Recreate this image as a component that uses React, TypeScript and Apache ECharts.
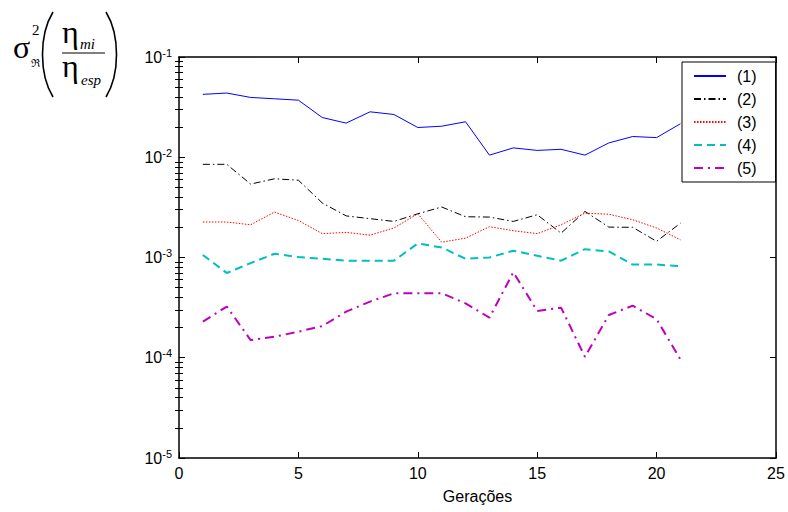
import React, { useEffect, useRef } from "react";
import * as echarts from "echarts";

const generations = [1, 2, 3, 4, 5, 6, 7, 8, 9, 10, 11, 12, 13, 14, 15, 16, 17, 18, 19, 20, 21];
const seriesNames = ["(1)", "(2)", "(3)", "(4)", "(5)"];
const s1 = [0.0424, 0.0437, 0.0395, 0.0383, 0.0371, 0.0249, 0.0219, 0.0284, 0.0267, 0.0198, 0.0204, 0.0226, 0.0105, 0.0124, 0.0117, 0.012, 0.0105, 0.0139, 0.0161, 0.0157, 0.0216];
const s2 = [0.0085, 0.0085, 0.0054, 0.0061, 0.0059, 0.0035, 0.0026, 0.00244, 0.00229, 0.00273, 0.00319, 0.00255, 0.00253, 0.00229, 0.00267, 0.00175, 0.00288, 0.00201, 0.002, 0.00145, 0.0022];
const s3 = [0.00226, 0.00226, 0.00212, 0.00284, 0.00234, 0.00173, 0.00178, 0.00167, 0.00197, 0.00273, 0.00142, 0.00156, 0.00203, 0.00185, 0.00173, 0.00212, 0.00277, 0.0027, 0.00238, 0.00197, 0.0015];
const s4 = [0.00106, 0.0007, 0.00088, 0.00109, 0.00101, 0.00097, 0.00093, 0.00093, 0.00093, 0.00138, 0.00126, 0.00097, 0.001, 0.00117, 0.00104, 0.00093, 0.00121, 0.00115, 0.00085, 0.00085, 0.00082];
const s5 = [0.000229, 0.000324, 0.00015, 0.000162, 0.000182, 0.000207, 0.000288, 0.000363, 0.00044, 0.00044, 0.00044, 0.000349, 0.000251, 0.000713, 0.000293, 0.000316, 0.000102, 0.000267, 0.000331, 0.000242, 0.0000962];
const xTicks = [0, 5, 10, 15, 20, 25];
const yDecades = [1e-5, 1e-4, 1e-3, 1e-2];
const yMinorMantissas = [2, 3, 4, 5, 6, 7, 8, 9];

const colors = ["#0000ff", "#000000", "#ff0000", "#00bfbf", "#bf00bf"];
const widths = [1, 1, 1, 2, 2];
const dashes: any[] = ["solid", [7, 3, 1.5, 3], [1.5, 1.5], [8, 5], [9, 5, 2, 5]];

const SANS = "'Liberation Sans', Arial, sans-serif";
const SERIF = "'Liberation Serif', 'DejaVu Serif', serif";

// place text by baseline (SVG text is vertically centred on y)
const txt = (s: string, x: number, baseline: number, size: number, italic = false) => ({
  type: "text",
  x,
  y: baseline - 0.3375 * size,
  style: { text: s, font: `${italic ? "italic " : ""}${size}px ${SERIF}`, fill: "#000", verticalAlign: "middle", align: "left" },
});

export default function App() {
  const ref = useRef<HTMLDivElement>(null);
  useEffect(() => {
    if (!ref.current) return;
    const chart = echarts.init(ref.current, undefined, { renderer: "svg" });
    const all = [s1, s2, s3, s4, s5];
    const minorTicks: number[] = [];
    yDecades.forEach((d) => yMinorMantissas.forEach((m) => minorTicks.push(+(m * d).toPrecision(3))));
    const series = all.map((vals, i) => ({
      name: seriesNames[i],
      type: "line",
      xAxisIndex: 0,
      yAxisIndex: 0,
      symbol: "none",
      data: generations.map((g, j) => [g, vals[j]]),
      lineStyle: { color: colors[i], width: widths[i], type: dashes[i] },
      itemStyle: { color: colors[i] },
      z: 3 + i,
    }));
    const axisLine = { show: true, onZero: false, lineStyle: { color: "#000", width: 1.5 } };
    const logBase = { type: "log", logBase: 10, min: 1e-5, max: 1e-1, splitLine: { show: false } };
    chart.setOption({
      animation: false,
      backgroundColor: "#fff",
      grid: { left: 179, top: 57, width: 597, height: 401, containLabel: false },
      legend: {
        data: seriesNames,
        orient: "vertical",
        left: 682,
        top: 62,
        backgroundColor: "#fff",
        borderColor: "#000",
        borderWidth: 1,
        padding: [5, 19, 5, 11],
        itemWidth: 32,
        itemHeight: 14,
        itemGap: 5,
        itemStyle: { opacity: 0 },
        textStyle: { fontSize: 16, fontFamily: SANS, color: "#000", lineHeight: 18, padding: [0, 0, 0, 6] },
        z: 20,
      },
      xAxis: [
        {
          type: "value",
          min: 0,
          max: 25,
          interval: 5,
          position: "bottom",
          axisLine,
          axisTick: { show: true, inside: true, length: 6, lineStyle: { color: "#000" } },
          axisLabel: { fontSize: 16, fontFamily: SANS, color: "#000", margin: 7, formatter: (v: number) => (xTicks.includes(v) ? String(v) : "") },
          splitLine: { show: false },
          name: "Gerações",
          nameLocation: "middle",
          nameGap: 30,
          nameTextStyle: { fontSize: 16, fontFamily: SANS, color: "#000" },
        },
        {
          type: "value",
          min: 0,
          max: 25,
          interval: 5,
          position: "top",
          axisLine,
          axisTick: { show: true, inside: true, length: 6, lineStyle: { color: "#000" } },
          axisLabel: { show: false },
          splitLine: { show: false },
        },
      ],
      yAxis: [
        {
          ...logBase,
          position: "left",
          axisLine,
          axisTick: { show: true, inside: true, length: 6, lineStyle: { color: "#000" } },
          axisLabel: {
            margin: 7,
            formatter: (v: number) => `{b|10}{s|${Math.round(Math.log10(v))}}`,
            rich: {
              b: { fontSize: 16, fontFamily: SANS, color: "#000" },
              s: { fontSize: 11, fontFamily: SANS, color: "#000", padding: [0, 0, 9, 0] },
            },
          },
        },
        {
          ...logBase,
          position: "right",
          axisLine,
          axisTick: { show: true, inside: true, length: 6, lineStyle: { color: "#000" } },
          axisLabel: { show: false },
        },
        {
          ...logBase,
          position: "left",
          axisLine: { show: false },
          axisTick: { show: true, inside: true, length: 4, customValues: minorTicks, lineStyle: { color: "#000" } },
          axisLabel: { show: false },
        },
        {
          ...logBase,
          position: "right",
          axisLine: { show: false },
          axisTick: { show: true, inside: true, length: 4, customValues: minorTicks, lineStyle: { color: "#000" } },
          axisLabel: { show: false },
        },
      ],
      graphic: [
        txt("σ", 13, 58, 32),
        txt("2", 32, 35, 15),
        txt("ℜ", 31, 67, 11),
        { type: "bezierCurve", shape: { x1: 53, y1: 12, x2: 53, y2: 97, cpx1: 39, cpy1: 35, cpx2: 39, cpy2: 74 }, style: { stroke: "#000", lineWidth: 1.6, fill: "none" } },
        { type: "bezierCurve", shape: { x1: 106, y1: 12, x2: 106, y2: 97, cpx1: 120, cpy1: 35, cpx2: 120, cpy2: 74 }, style: { stroke: "#000", lineWidth: 1.6, fill: "none" } },
        txt("η", 62, 43, 32),
        txt("mi", 80, 49, 15, true),
        { type: "line", shape: { x1: 62, y1: 53, x2: 105, y2: 53 }, style: { stroke: "#000", lineWidth: 1 } },
        txt("η", 62, 77, 32),
        txt("esp", 81, 85, 15, true),
      ],
      series,
    });
    return () => chart.dispose();
  }, []);
  return <div ref={ref} style={{ position: "fixed", left: 0, top: 0, width: 788, height: 512 }} />;
}
